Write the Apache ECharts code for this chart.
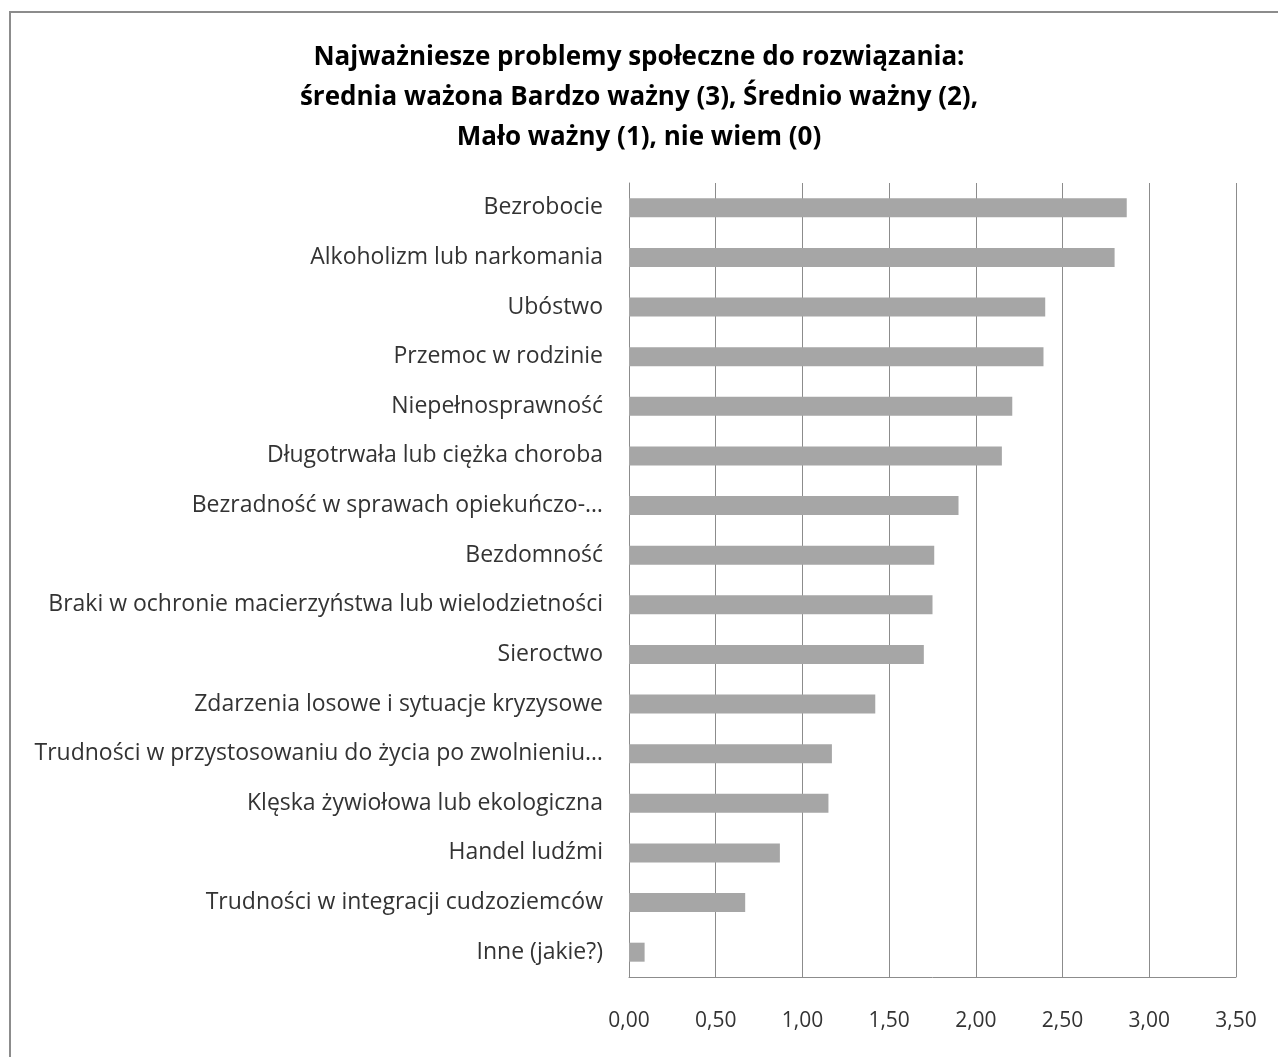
<!DOCTYPE html>
<html>
<head>
<meta charset="utf-8">
<script src="https://cdn.jsdelivr.net/npm/echarts@6/dist/echarts.min.js"></script>
<style>
  html, body { margin: 0; padding: 0; background: #fff; }
  #chart { width: 1278px; height: 1057px; }
</style>
</head>
<body>
<div id="chart"></div>
<script>
// dane (od góry do dołu)
const categories = [
  'Bezrobocie',
  'Alkoholizm lub narkomania',
  'Ubóstwo',
  'Przemoc w rodzinie',
  'Niepełnosprawność',
  'Długotrwała lub ciężka choroba',
  'Bezradność w sprawach opiekuńczo-…',
  'Bezdomność',
  'Braki w ochronie macierzyństwa lub wielodzietności',
  'Sieroctwo',
  'Zdarzenia losowe i sytuacje kryzysowe',
  'Trudności w przystosowaniu do życia po zwolnieniu…',
  'Klęska żywiołowa lub ekologiczna',
  'Handel ludźmi',
  'Trudności w integracji cudzoziemców',
  'Inne (jakie?)'
]
const values = [2.87, 2.80, 2.40, 2.39, 2.21, 2.15, 1.90, 1.76, 1.75, 1.70, 1.42, 1.17, 1.15, 0.87, 0.67, 0.09]
const titleLines = [
  'Najważniesze problemy społeczne do rozwiązania:',
  'średnia ważona Bardzo ważny (3), Średnio ważny (2),',
  'Mało ważny (1), nie wiem (0)'
]

const font = '"Open Sans", "Noto Sans", sans-serif'

let myChart = echarts.init(document.getElementById('chart'))
let option = {
  backgroundColor: '#fff',
  animation: false,
  title: {
    text: titleLines.join('\n'),
    left: 'center',
    top: 33,
    textStyle: {
      fontFamily: font,
      fontSize: 26,
      fontWeight: 'bold',
      color: '#000',
      lineHeight: 40
    }
  },
  graphic: [{
    type: 'rect',
    shape: { x: 10, y: 12, width: 1300, height: 1100 },
    style: { fill: 'none', stroke: '#8c8c8c', lineWidth: 2 },
    silent: true
  }],
  grid: {
    left: 629,
    right: 42,
    top: 183,
    bottom: 80,
    containLabel: false
  },
  xAxis: {
    type: 'value',
    min: 0,
    max: 3.5,
    interval: 0.5,
    axisLine: { show: true, lineStyle: { color: '#8c8c8c', width: 1 } },
    axisTick: { show: false },
    splitLine: { show: true, lineStyle: { color: '#8c8c8c', width: 1 } },
    axisLabel: {
      margin: 34,
      fontFamily: font,
      fontSize: 21,
      color: '#333'
    }
  },
  yAxis: {
    type: 'category',
    inverse: true,
    data: categories,
    axisLine: { show: true, lineStyle: { color: '#8c8c8c', width: 1 } },
    axisTick: { show: false },
    axisLabel: {
      margin: 26,
      fontFamily: font,
      fontSize: 23,
      color: '#333'
    }
  },
  series: [{
    type: 'bar',
    data: values,
    barWidth: 19,
    itemStyle: { color: '#a6a6a6' }
  }]
}
// przecinek jako separator dziesiętny
option.xAxis.axisLabel.formatter = v => v.toFixed(2).replace('.', ',')
myChart.setOption(option, true)
</script>
</body>
</html>
